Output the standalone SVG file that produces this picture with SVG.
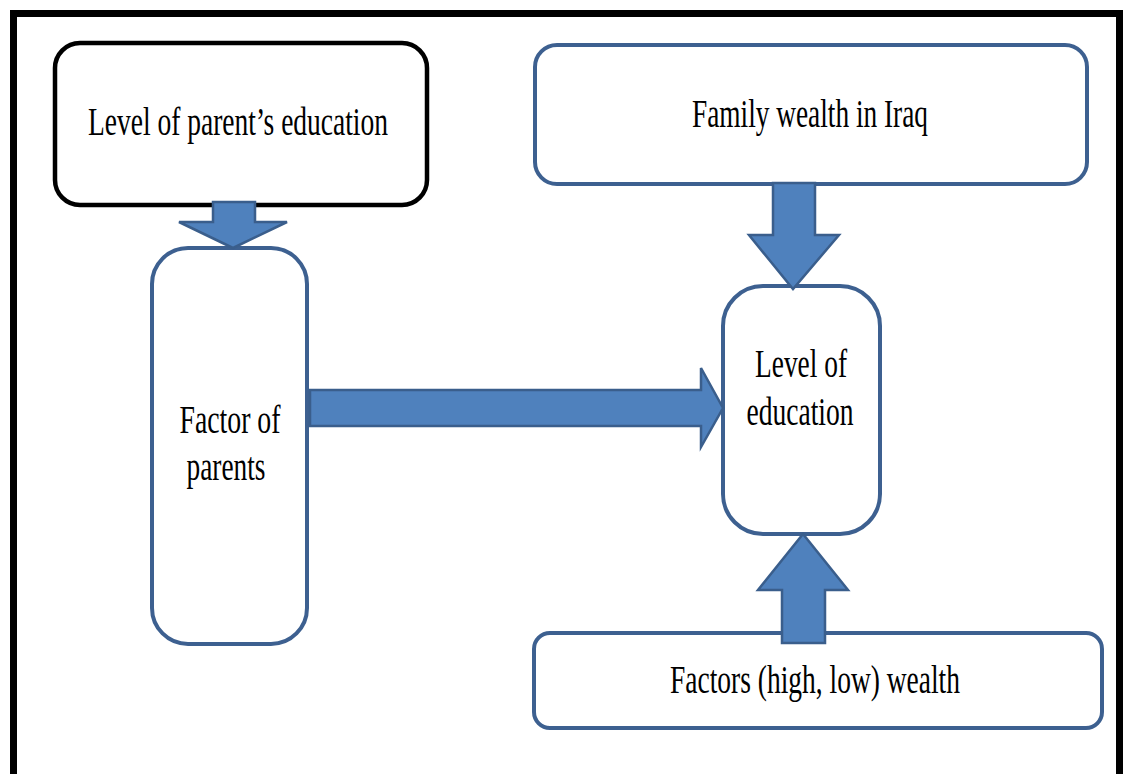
<svg xmlns="http://www.w3.org/2000/svg" width="1124" height="774" viewBox="0 0 1124 774">
<style>
.box{fill:#fff;stroke:#3D6090;stroke-width:4}
.boxk{fill:#fff;stroke:#000;stroke-width:4.5}
.arr{fill:#4F81BD;stroke:#3A5E8C;stroke-width:2.5;stroke-linejoin:miter}
.t{font-family:"Liberation Serif","Times New Roman",serif;font-size:40px;fill:#000;text-anchor:middle}
</style>
<rect x="0" y="0" width="1124" height="774" fill="#fff"/>
<rect id="frame" x="13.5" y="13.5" width="1106" height="820" fill="none" stroke="#000" stroke-width="7"/>
<g id="n1"><rect class="boxk" x="55" y="43" width="372" height="162" rx="25"/><text class="t" x="238" y="135" textLength="300" lengthAdjust="spacingAndGlyphs">Level of parent’s education</text></g>
<g id="n2"><rect class="box" x="535" y="45" width="552" height="139" rx="22"/><text class="t" x="810" y="127" textLength="236" lengthAdjust="spacingAndGlyphs">Family wealth in Iraq</text></g>
<g id="n3"><rect class="box" x="152" y="248" width="155" height="396" rx="36"/><text class="t" x="230" y="433" textLength="101" lengthAdjust="spacingAndGlyphs">Factor of</text><text class="t" x="226" y="480" textLength="79" lengthAdjust="spacingAndGlyphs">parents</text></g>
<g id="n4"><rect class="box" x="723" y="286" width="157" height="248" rx="40"/><text class="t" x="801" y="377" textLength="92" lengthAdjust="spacingAndGlyphs">Level of</text><text class="t" x="800" y="425" textLength="107" lengthAdjust="spacingAndGlyphs">education</text></g>
<g id="n5"><rect class="box" x="534" y="633" width="568" height="95" rx="16"/><text class="t" x="815" y="693" textLength="290" lengthAdjust="spacingAndGlyphs">Factors (high, low) wealth</text></g>
<g id="connectors">
<polygon class="arr" points="213,202 255,202 255,222 287,222 233,248 179,222 213,222"/>
<polygon class="arr" points="773,183 815,183 815,235 839,235 793,289 749,235 773,235"/>
<polygon class="arr" points="310,390 701,390 701,368 723,408 701,447 701,426 310,426"/>
<polygon class="arr" points="782,643 825,643 825,590 848,590 803,534 758,590 782,590"/>
</g>
</svg>
